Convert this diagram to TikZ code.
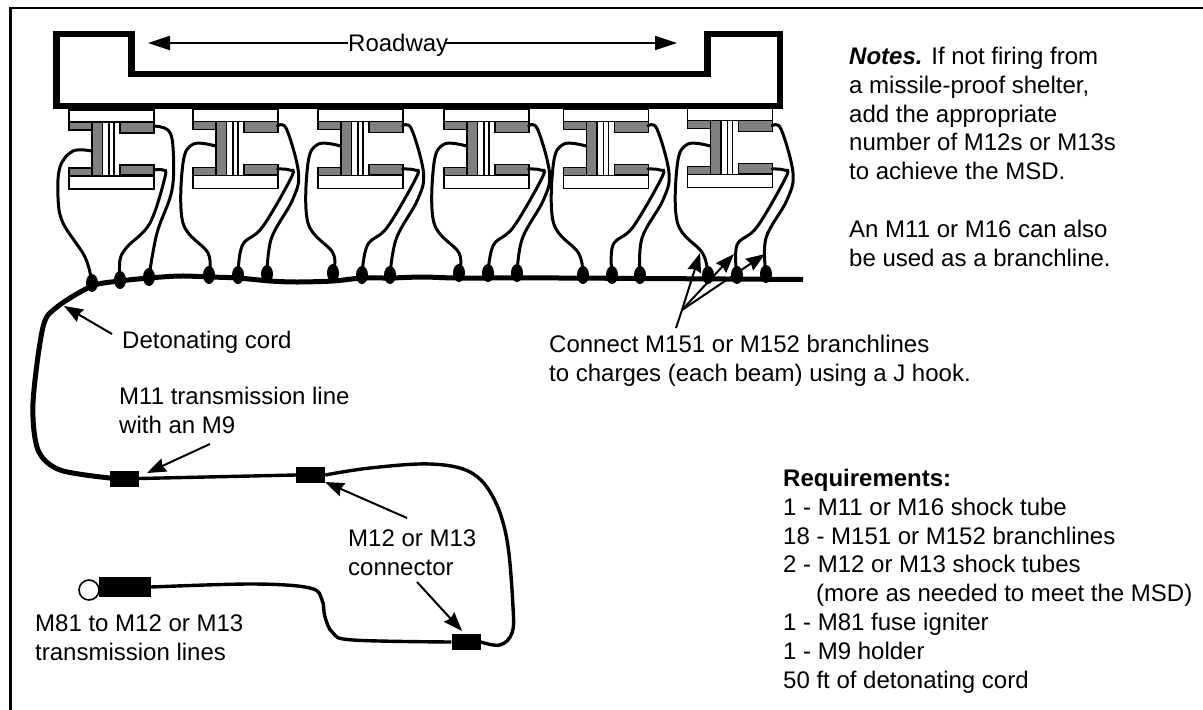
\documentclass[tikz,border=0pt]{standalone}
\usepackage{fontspec}
\setmainfont{Liberation Sans}
\usetikzlibrary{arrows.meta,shapes.geometric}
\tikzset{
 plate/.style={draw=black,fill=white,line width=1.7pt},
 flange/.style={draw=black,fill=black!50,line width=1.7pt},
 wire/.style={draw=black,line width=3pt,line cap=round},
 cord/.style={draw=black,line width=5pt},
 tube/.style={draw=black,line width=3.4pt},
 blob/.style={fill=black,draw=none,ellipse,minimum width=12pt,minimum height=18pt,inner sep=0pt},
 holder/.style={fill=black,draw=none,rectangle,inner sep=0pt},
 lead/.style={draw=black,line width=2pt,-{Stealth[length=19pt,width=14pt,inset=2pt]}},
 txt/.style={anchor=north west,font=\fontsize{24}{28.9}\selectfont,align=left,inner sep=0pt},
}
\newcommand{\fl}{\rule{0pt}{20pt}}
\begin{document}
\begin{tikzpicture}[x=1pt,y=-1pt]
\useasboundingbox (0,0) rectangle (1203,710);
\fill[white] (0,0) rectangle (1203,710);
\draw[line width=2.6pt] (10.7,712) -- (10.7,7.8) -- (1205,7.8);
% roadway
\draw[line width=6.5pt] (56.5,34) -- (131.5,34) -- (131.5,74) -- (707.5,74) -- (707.5,34) -- (780,34) -- (780,106) -- (56.5,106) -- cycle;
\node[txt] (road) at (348,31) {\fl Roadway};
\coordinate (roadL) at (148,43);
\coordinate (roadR) at (677,43);
\draw[lead,-{Stealth[length=22pt,width=14pt,inset=0pt]}] (348,43) -- (roadL);
\draw[lead,-{Stealth[length=22pt,width=14pt,inset=0pt]}] (445,43) -- (roadR);
% beams
\foreach \dx/\dy in {0/0,124/-0.5,249/-0.5,375/-0.5,494.5/-0.5,618.5/-1.5}{
 \begin{scope}[shift={(\dx,\dy)}]
  \draw[plate] (69,110) rectangle (154,122);
  \draw[plate] (69,176) rectangle (154,189);
  \draw[flange] (69,122) rectangle (92,130);
  \draw[flange] (69,168) rectangle (92,176);
  \draw[plate] (92,122) rectangle (109,176);
  \draw[flange] (92,122) rectangle (102.5,176);
  \draw[line width=1.7pt] (154,122) -- (114,122) -- (114,176) -- (154,176);
  \draw[flange] (120,122) rectangle (154,133);
  \draw[flange] (120,165) rectangle (154,175);
 \end{scope}}
% charge nodes on the cord
\foreach \n/\x/\y in {a1/92/283,a2/120/280,a3/149/277,b1/209/275,b2/238/275,b3/267/274,c1/333/273,c2/362/275,c3/390/275,d1/459/273,d2/488/273,d3/517/273,e1/583/275,e2/612/275,e3/640/275,f1/708/275,f2/737/275,f3/766/274}{
 \node[blob] (\n) at (\x,\y) {};
}
% branchlines, first beam
\draw[wire] plot[smooth,tension=0.6] coordinates {(92,151) (73,151) (60,167) (58,197) (63,223) (85,257) (a1.center)};
\draw[wire] plot[smooth,tension=0.6] coordinates {(154,126) (168,130) (173,147) (172,190) (157,233) (a3.center)};
\draw[wire] plot[smooth,tension=0.6] coordinates {(154,170) (163,170) (165,177) (150,223) (127,247) (120,260) (a2.center)};
% branchlines, other beams
\foreach \xo/\p/\q/\r in {192.5/b1/b2/b3,317.5/c1/c2/c3,443.5/d1/d2/d3,563/e1/e2/e3,687/f1/f2/f3}{
 \begin{scope}[shift={(\xo,0)}]
  \draw[wire] plot[smooth,tension=0.6] coordinates {(23,146) (1,144) (-9.5,163) (-9.5,223) (15.5,253) (\p.center)};
  \draw[wire] plot[smooth,tension=0.6] coordinates {(85,126) (94,129) (106,173) (100,200) (79,238) (\r.center)};
  \draw[wire] plot[smooth,tension=0.6] coordinates {(85,169) (97,170) (99,177) (70,227) (50,245) (\q.center)};
 \end{scope}}
% detonating cord
\draw[cord] plot[smooth,tension=0.5] coordinates {(803,279.5) (560,278) (459,278) (423,277) (390,278) (362,278) (333,281) (297,282) (270,281) (238,278) (210,277) (180,276) (149,278) (120,281) (92,286) (57,307) (43,327) (33,403) (38,450) (60,470) (110,478)};
% holders
\node[holder,minimum width=29pt,minimum height=16pt] (hA) at (124.5,478.5) {};
\node[holder,minimum width=29pt,minimum height=16pt] (hB) at (310.5,475) {};
\node[holder,minimum width=29pt,minimum height=16pt] (hC) at (466,642) {};
\node[holder,minimum width=52pt,minimum height=20pt] (ign) at (125,587) {};
\node[circle,draw=black,line width=1.6pt,minimum size=20pt,inner sep=0pt] (ring) at (89,590) {};
\draw[tube] (hA.east) -- (hB.west);
\draw[tube] plot[smooth,tension=0.6] coordinates {(hB.east) (370,468) (430,464) (470,472) (493,497) (507,540) (513,607) (512,633) (500,645) (hC.east)};
\draw[tube] plot[smooth,tension=0.6] coordinates {(hC.west) (353,640) (333,633) (325,617) (322,600) (310,588) (253,584) (ign.east)};
% labels
\node[txt] (ndc) at (122,328) {\fl Detonating cord};
\coordinate (sdc) at (112,334);
\coordinate (tdc) at (64,306);
\draw[lead] (sdc) -- (tdc);
\node[txt] (nm11) at (119,384) {\fl M11 transmission line\\with an M9};
\coordinate (sm11) at (210,444);
\coordinate (tm11) at (147,473);
\draw[lead] (sm11) -- (tm11);
\node[txt] (nm12) at (348,526) {\fl M12 or M13\\connector};
\coordinate (sm12) at (407,518);
\coordinate (tm12) at (325,482);
\draw[lead] (sm12) -- (tm12);
\coordinate (sm13) at (417,582);
\coordinate (tm13) at (462,631);
\draw[lead] (sm13) -- (tm13);
\node[txt] (nm81) at (35,611) {\fl M81 to M12 or M13\\transmission lines};
\node[txt] (nj) at (549,332) {\fl Connect M151 or M152 branchlines\\to charges (each beam) using a J hook.};
\coordinate (js) at (676,328);
\coordinate (jo) at (682,310);
\coordinate (j1) at (700,253);
\coordinate (j2) at (734,254);
\coordinate (j3) at (765,254);
\draw[lead] (js) -- (jo) -- (j1);
\draw[lead] (jo) -- (j2);
\draw[lead] (jo) -- (j3);
\node[txt] (notes) at (849,44) {\fl\textbf{\textit{Notes.}} If not firing from\\a missile-proof shelter,\\add the appropriate\\number of M12s or M13s\\to achieve the MSD.};
\node[txt] (also) at (849,217) {\fl An M11 or M16 can also\\be used as a branchline.};
\node[txt] (req) at (783,466) {\fl\textbf{Requirements:}\\1 - M11 or M16 shock tube\\18 - M151 or M152 branchlines\\2 - M12 or M13 shock tubes\\\hspace*{33pt}(more as needed to meet the MSD)\\1 - M81 fuse igniter\\1 - M9 holder\\50 ft of detonating cord};
\end{tikzpicture}
\end{document}
